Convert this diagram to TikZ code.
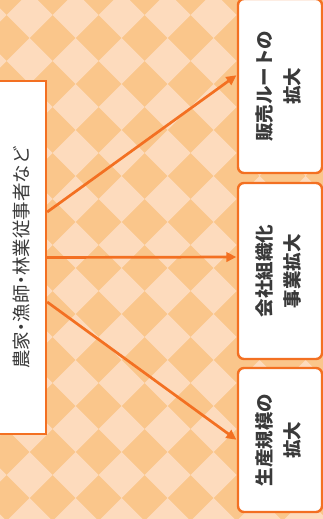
\documentclass[tikz,border=0pt]{standalone}
\usepackage{fontspec}
\newfontfamily\jp{Noto Sans CJK JP}
\newfontfamily\jpp[RawFeature=+palt]{Noto Sans CJK JP}
\usetikzlibrary{arrows.meta}
\definecolor{bgdark}{HTML}{FAC68B}
\definecolor{bglight}{HTML}{FDDBBD}
\definecolor{edge}{HTML}{F37022}
\definecolor{ink}{HTML}{3A3A3A}
\newcommand{\goallines}[2]{\rotatebox{90}{\fontsize{18.5}{28}\selectfont\jp\bfseries\color{ink}\begin{tabular}{@{}c@{}}#1\\#2\end{tabular}}}
\tikzset{
  srcbox/.style={draw=edge, line width=2.4pt, fill=white, inner sep=0pt},
  goalbox/.style={draw=edge, line width=2.4pt, fill=white, rounded corners=6pt,
    inner sep=0pt, minimum width=84pt},
  flow/.style={draw=edge, line width=2.7pt, -{Triangle[length=10pt,width=9.5pt]}, shorten >=0.5pt}
}
\begin{document}
\begin{tikzpicture}[x=1pt,y=-1pt]
\useasboundingbox (0,0) rectangle (323,519);
\clip (0,0) rectangle (323,519);
% background checker
\fill[bgdark] (0,0) rectangle (323,519);
\foreach \i in {-1,...,7}{
  \foreach \j in {-1,...,11}{
    \fill[bglight] ({29.7+46*\i},{15+46*\j}) +(-23,0) -- +(0,-23) -- +(23,0) -- +(0,23) -- cycle;
  }
}
% source box
\node[srcbox, minimum width=50pt, minimum height=353pt] (lb) at (21,257.5)
  {\rotatebox{90}{\jp\fontsize{18.5}{22}\selectfont\color{ink}農家{\jpp ・}漁師{\jpp ・}林業従事者など}};
% goal boxes
\node[goalbox, minimum height=174pt] (b1) at (280,86) {\goallines{販売ルートの}{拡大}};
\node[goalbox, minimum height=176pt] (b2) at (280,271) {\goallines{会社組織化}{事業拡大}};
\node[goalbox, minimum height=144pt] (b3) at (280,440) {\goallines{生産規模の}{拡大}};
% arrows
\draw[flow] ([yshift=45.5pt]lb.east) -- ([yshift=11pt]b1.west);
\draw[flow] (lb.east) -- ([yshift=14pt]b2.west);
\draw[flow] ([yshift=-44.5pt]lb.east) -- (b3.west);
\end{tikzpicture}
\end{document}
